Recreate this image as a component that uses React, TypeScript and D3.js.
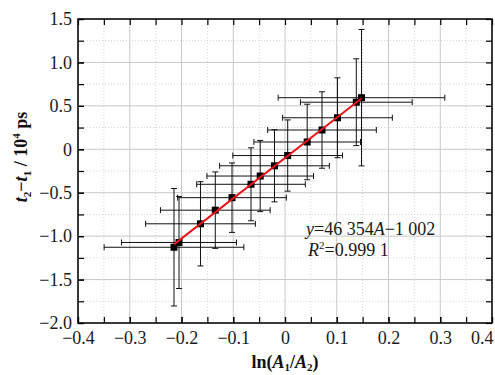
import { useEffect, useRef } from "react";
import * as d3 from "d3";

// ln(A1/A2) values and t2-t1 (10^4 ps)
const lnRatio = [-0.2145, -0.2048, -0.1633, -0.1347, -0.1024, -0.0657, -0.0479, -0.0203, 0.0052, 0.0429, 0.0715, 0.1014, 0.1378, 0.1478];
const deltaT = [-1.128, -1.073, -0.858, -0.701, -0.557, -0.403, -0.308, -0.19, -0.072, 0.084, 0.222, 0.363, 0.542, 0.594];
const lnRatioErr = [0.135, 0.111, 0.106, 0.106, 0.105, 0.105, 0.103, 0.106, 0.106, 0.103, 0.105, 0.106, 0.108, 0.161];
const deltaTErr = [0.676, 0.53, 0.485, 0.44, 0.4, 0.42, 0.41, 0.415, 0.41, 0.435, 0.44, 0.46, 0.5, 0.785];

const xTicks = [-0.4, -0.3, -0.2, -0.1, 0, 0.1, 0.2, 0.3, 0.4];
const yTicks = [-2.0, -1.5, -1.0, -0.5, 0, 0.5, 1.0, 1.5];

// fit y = 46 354 A - 1 002 (ps), plotted in units of 10^4 ps
const fitSlope = 46354;
const fitIntercept = -1002;

const W = 495;
const H = 375;
const margin = { top: 19, right: 3, bottom: 52, left: 78 };
const serif = "'Liberation Serif', 'Times New Roman', serif";

export default function App() {
  const svgRef = useRef<SVGSVGElement>(null);

  useEffect(() => {
    if (!svgRef.current) return;
    const svg = d3.select(svgRef.current);
    svg.selectAll("*").remove();

    const width = W - margin.left - margin.right;
    const height = H - margin.top - margin.bottom;

    const x = d3.scaleLinear().domain([-0.4, 0.4]).range([0, width]);
    const y = d3.scaleLinear().domain([-2, 1.5]).range([height, 0]);

    const minorX = d3.range(-0.4, 0.4001, 0.05);
    const minorY = d3.range(-2, 1.5001, 0.25);

    const g = svg
      .append("g")
      .attr("transform", `translate(${margin.left},${margin.top})`);

    // minor grid (dotted)
    g.append("g")
      .selectAll("line")
      .data(minorX.filter((v) => !xTicks.some((t) => Math.abs(t - v) < 1e-6)))
      .enter()
      .append("line")
      .attr("x1", (d) => x(d))
      .attr("x2", (d) => x(d))
      .attr("y1", 0)
      .attr("y2", height)
      .attr("stroke", "#d4d4d4")
      .attr("stroke-dasharray", "1,2");
    g.append("g")
      .selectAll("line")
      .data(minorY.filter((v) => !yTicks.some((t) => Math.abs(t - v) < 1e-6)))
      .enter()
      .append("line")
      .attr("y1", (d) => y(d))
      .attr("y2", (d) => y(d))
      .attr("x1", 0)
      .attr("x2", width)
      .attr("stroke", "#d4d4d4")
      .attr("stroke-dasharray", "1,2");

    // major grid
    g.append("g")
      .selectAll("line")
      .data(xTicks)
      .enter()
      .append("line")
      .attr("x1", (d) => x(d))
      .attr("x2", (d) => x(d))
      .attr("y1", 0)
      .attr("y2", height)
      .attr("stroke", "#c8c8c8");
    g.append("g")
      .selectAll("line")
      .data(yTicks)
      .enter()
      .append("line")
      .attr("y1", (d) => y(d))
      .attr("y2", (d) => y(d))
      .attr("x1", 0)
      .attr("x2", width)
      .attr("stroke", "#c8c8c8");

    const data = lnRatio.map((v, i) => ({
      x: v,
      y: deltaT[i],
      ex: lnRatioErr[i],
      ey: deltaTErr[i],
    }));

    const cap = 3;
    const bars = g.append("g").attr("stroke", "#111").attr("stroke-width", 1);
    data.forEach((d) => {
      const cx = x(d.x);
      const cy = y(d.y);
      const xl = x(d.x - d.ex);
      const xr = x(d.x + d.ex);
      const yt = y(d.y + d.ey);
      const yb = y(d.y - d.ey);
      bars.append("line").attr("x1", xl).attr("x2", xr).attr("y1", cy).attr("y2", cy);
      bars.append("line").attr("x1", xl).attr("x2", xl).attr("y1", cy - cap).attr("y2", cy + cap);
      bars.append("line").attr("x1", xr).attr("x2", xr).attr("y1", cy - cap).attr("y2", cy + cap);
      bars.append("line").attr("x1", cx).attr("x2", cx).attr("y1", yt).attr("y2", yb);
      bars.append("line").attr("x1", cx - cap).attr("x2", cx + cap).attr("y1", yt).attr("y2", yt);
      bars.append("line").attr("x1", cx - cap).attr("x2", cx + cap).attr("y1", yb).attr("y2", yb);
    });

    // points
    g.selectAll(".pt")
      .data(data)
      .enter()
      .append("rect")
      .attr("class", "pt")
      .attr("x", (d) => x(d.x) - 3.5)
      .attr("y", (d) => y(d.y) - 3.5)
      .attr("width", 7)
      .attr("height", 7)
      .attr("fill", "#000");

    // fit line
    const [xMin, xMax] = d3.extent(lnRatio) as [number, number];
    const fit = (a: number) => (fitSlope * a + fitIntercept) / 1e4;
    g.append("path")
      .datum([xMin, xMax])
      .attr("fill", "none")
      .attr("stroke", "#e8141b")
      .attr("stroke-width", 2)
      .attr(
        "d",
        d3
          .line<number>()
          .x((d) => x(d))
          .y((d) => y(fit(d)))
      );

    const fmt = (d: d3.NumberValue) => (+d === 0 ? "0" : d3.format(".1f")(+d));
    const styleAxis = (sel: d3.Selection<SVGGElement, unknown, null, undefined>) => {
      sel.select(".domain").remove();
      sel.selectAll("line").attr("stroke", "#000").attr("stroke-width", 1.2);
      sel
        .selectAll("text")
        .style("font-family", serif)
        .style("font-size", "18px")
        .attr("fill", "#1a1a1a");
    };

    // bottom axis
    g.append("g")
      .attr("transform", `translate(0,${height})`)
      .call(d3.axisBottom(x).tickValues(minorX).tickSize(-6).tickFormat(() => ""))
      .call(styleAxis);
    const xAxis = g
      .append("g")
      .attr("transform", `translate(0,${height})`)
      .call(d3.axisBottom(x).tickValues(xTicks).tickSize(-6).tickPadding(8).tickFormat(fmt))
      .call(styleAxis);
    // last label is pushed inside the picture edge
    xAxis
      .selectAll<SVGTextElement, number>("text")
      .filter((d) => d === 0.4)
      .attr("text-anchor", "end")
      .attr("x", 1);
    // top axis
    g.append("g")
      .call(d3.axisTop(x).tickValues(minorX).tickSize(-6).tickFormat(() => ""))
      .call(styleAxis);
    // left axis
    g.append("g")
      .call(d3.axisLeft(y).tickValues(minorY).tickSize(-6).tickFormat(() => ""))
      .call(styleAxis);
    g.append("g")
      .call(d3.axisLeft(y).tickValues(yTicks).tickSize(-6).tickPadding(6).tickFormat(fmt))
      .call(styleAxis);
    // right axis
    g.append("g")
      .attr("transform", `translate(${width},0)`)
      .call(d3.axisRight(y).tickValues(minorY).tickSize(-6).tickFormat(() => ""))
      .call(styleAxis);

    // frame
    g.append("rect")
      .attr("width", width)
      .attr("height", height)
      .attr("fill", "none")
      .attr("stroke", "#000")
      .attr("stroke-width", 1.5);
  }, []);

  return (
    <div style={{ position: "absolute", left: 0, top: 0, background: "#fff" }}>
      <svg ref={svgRef} width={W} height={H} style={{ display: "block" }} />
      <svg
        width={W}
        height={H}
        style={{ position: "absolute", left: 0, top: 0, fontFamily: serif }}
      >
        <text
          transform="translate(27,157) rotate(-90)"
          textAnchor="middle"
          fontSize={18}
          fontWeight="bold"
          fill="#111"
        >
          <tspan fontStyle="italic">t</tspan>
          <tspan fontSize={11} dy={4}>2</tspan>
          <tspan dy={-4}>−</tspan>
          <tspan fontStyle="italic">t</tspan>
          <tspan fontSize={11} dy={4}>1</tspan>
          <tspan dy={-4}> / 10</tspan>
          <tspan fontSize={11} dy={-7}>4</tspan>
          <tspan dy={7}> ps</tspan>
        </text>
        <text x={285} y={368} textAnchor="middle" fontSize={18} fontWeight="bold" fill="#111">
          ln(<tspan fontStyle="italic">A</tspan>
          <tspan fontSize={11} dy={3}>1</tspan>
          <tspan dy={-3}>/</tspan>
          <tspan fontStyle="italic">A</tspan>
          <tspan fontSize={11} dy={3}>2</tspan>
          <tspan dy={-3}>)</tspan>
        </text>
        <text x={306} y={235} fontSize={18} fill="#1a1a1a">
          <tspan fontStyle="italic">y</tspan>=46 354<tspan fontStyle="italic">A</tspan>−1 002
        </text>
        <text x={308} y={256} fontSize={18} fill="#1a1a1a">
          <tspan fontStyle="italic">R</tspan>
          <tspan fontSize={11} dy={-7}>2</tspan>
          <tspan dy={7}>=0.999 1</tspan>
        </text>
      </svg>
    </div>
  );
}
